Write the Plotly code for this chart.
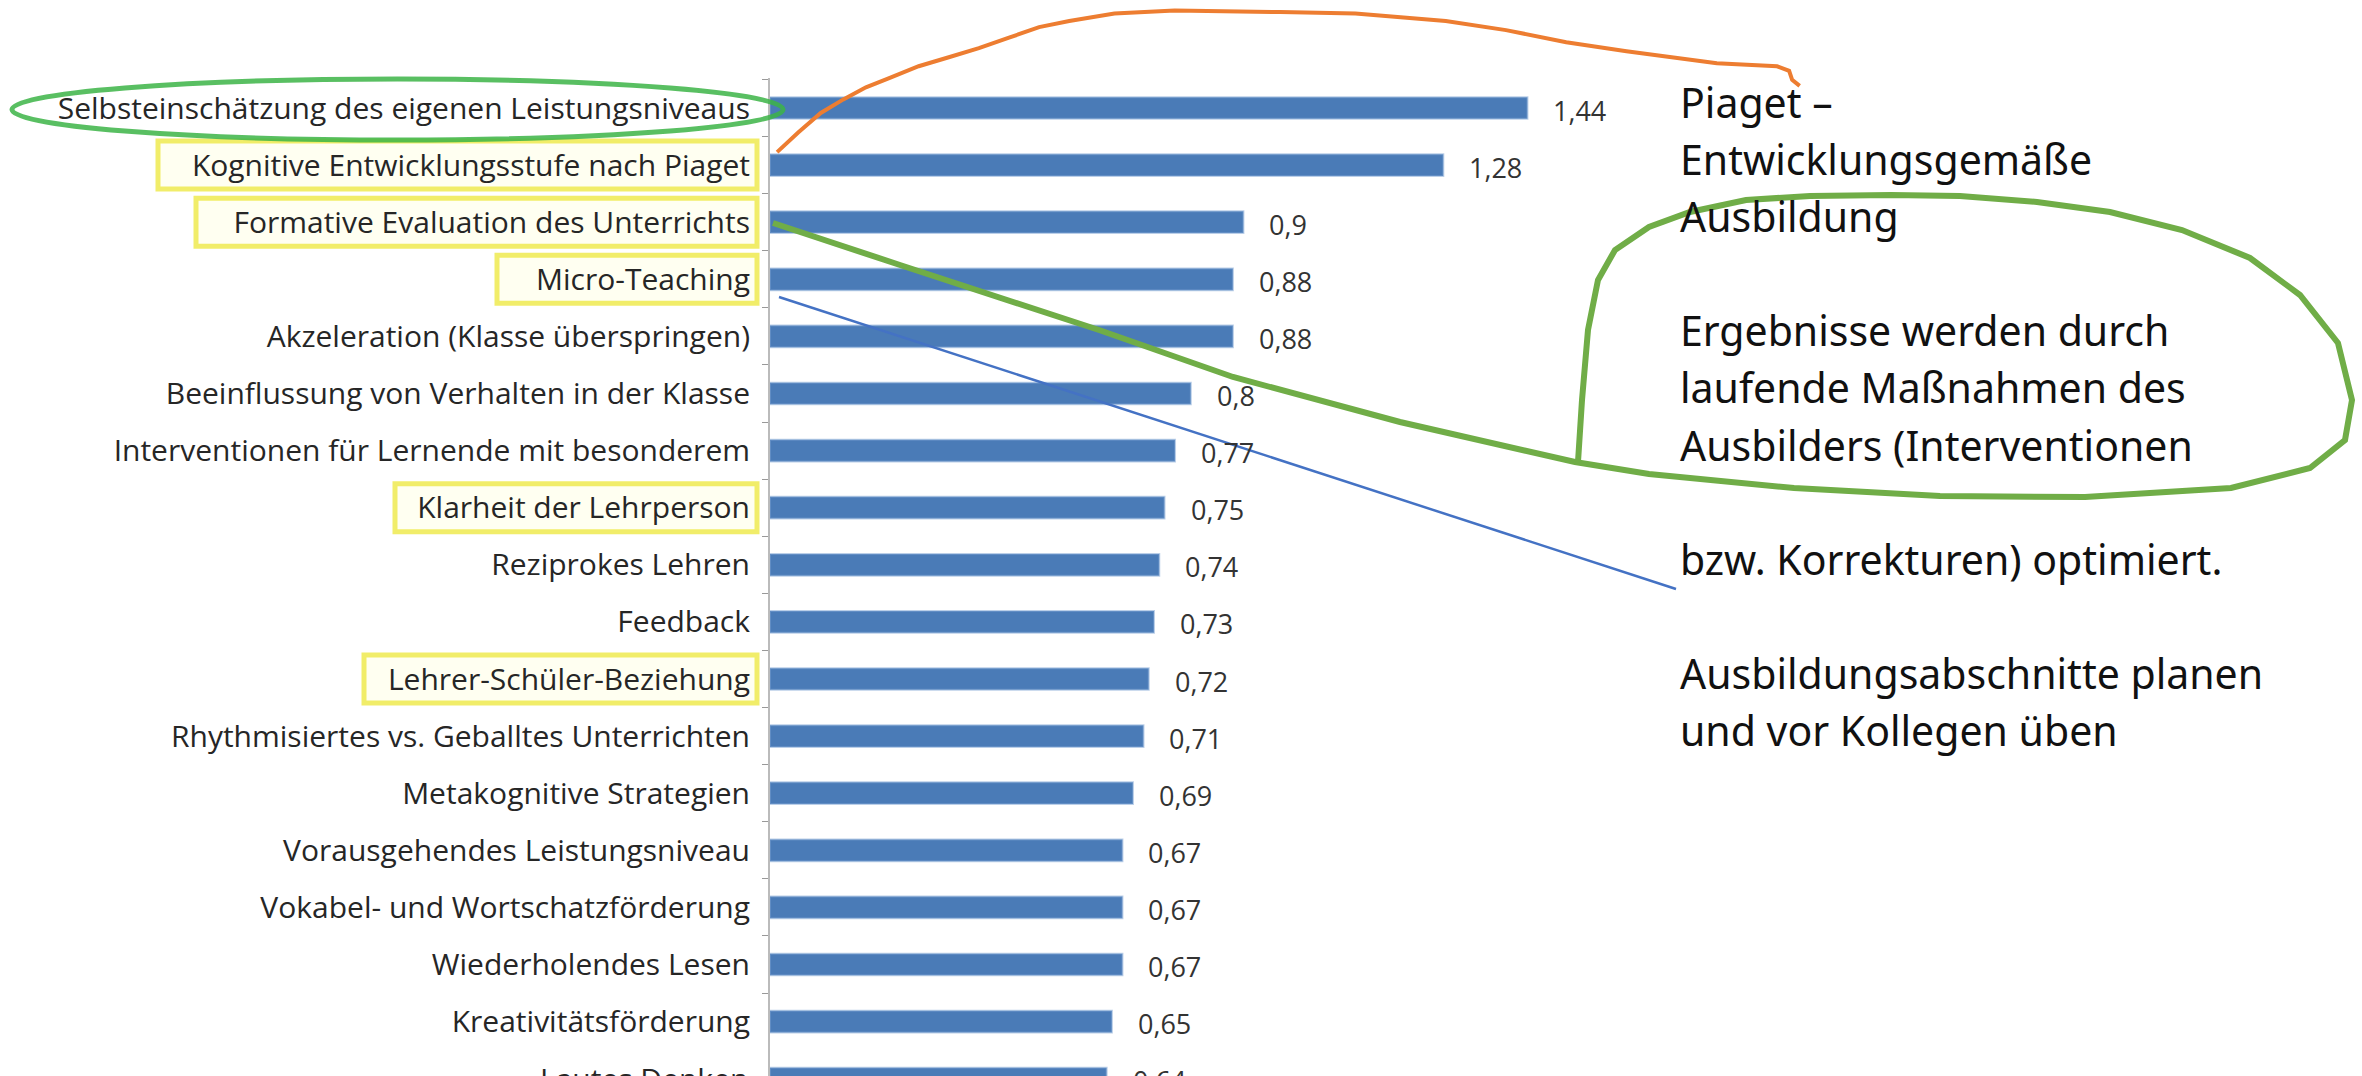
import plotly.graph_objects as go

# ---------------- data ----------------
categories = [
    "Selbsteinschätzung des eigenen Leistungsniveaus",
    "Kognitive Entwicklungsstufe nach Piaget",
    "Formative Evaluation des Unterrichts",
    "Micro-Teaching",
    "Akzeleration (Klasse überspringen)",
    "Beeinflussung von Verhalten in der Klasse",
    "Interventionen für Lernende mit besonderem",
    "Klarheit der Lehrperson",
    "Reziprokes Lehren",
    "Feedback",
    "Lehrer-Schüler-Beziehung",
    "Rhythmisiertes vs. Geballtes Unterrichten",
    "Metakognitive Strategien",
    "Vorausgehendes Leistungsniveau",
    "Vokabel- und Wortschatzförderung",
    "Wiederholendes Lesen",
    "Kreativitätsförderung",
    "Lautes Denken",
]
effect_sizes = [1.44, 1.28, 0.9, 0.88, 0.88, 0.8, 0.77, 0.75, 0.74, 0.73,
                0.72, 0.71, 0.69, 0.67, 0.67, 0.67, 0.65, 0.64]
value_labels = ["1,44", "1,28", "0,9", "0,88", "0,88", "0,8", "0,77", "0,75", "0,74", "0,73",
                "0,72", "0,71", "0,69", "0,67", "0,67", "0,67", "0,65", "0,64"]
highlighted = ["Kognitive Entwicklungsstufe nach Piaget",
               "Formative Evaluation des Unterrichts",
               "Micro-Teaching",
               "Klarheit der Lehrperson",
               "Lehrer-Schüler-Beziehung"]
note_lines = ["Piaget –", "Entwicklungsgemäße", "Ausbildung", "",
              "Ergebnisse werden durch", "laufende Maßnahmen des",
              "Ausbilders (Interventionen", "",
              "bzw. Korrekturen) optimiert.", "",
              "Ausbildungsabschnitte planen", "und vor Kollegen üben"]

# ---------------- layout geometry ----------------
W, H = 2362, 1076
ML, MR, MT, MB = 770, 14, 78, 0
PW, PH = W - ML - MR, H - MT - MB
ROW0, ROWSTEP = 108, 57.1
PX_PER_UNIT = 526.0
LABEL_FONT = dict(family="Open Sans", size=30, color="#262626")
VALUE_FONT = dict(family="Open Sans", size=27, color="#333333")


def px(x):
    return (x - ML) / PW


def py(y):
    return (H - MB - y) / PH


def path_from(points):
    s = "M {:.5f},{:.5f}".format(px(points[0][0]), py(points[0][1]))
    for x, y in points[1:]:
        s += " L {:.5f},{:.5f}".format(px(x), py(y))
    return s


y_lo = (MT - ROW0) / ROWSTEP
y_hi = (H - MB - ROW0) / ROWSTEP

fig = go.Figure()
fig.add_trace(go.Bar(
    x=effect_sizes, y=categories, orientation="h",
    marker=dict(color="#4A7BB7", line=dict(color="rgba(120,160,210,0.5)", width=2)),
    width=0.38, hoverinfo="skip",
))

annotations = []
for i, (cat, v, lab) in enumerate(zip(categories, effect_sizes, value_labels)):
    if i <= y_hi:
        annotations.append(dict(x=v, y=cat, xref="x", yref="y", text=lab, showarrow=False,
                                xanchor="left", xshift=24, yshift=-2, font=VALUE_FONT))
    else:
        # row partly cut off by the bottom edge of the picture (as in the reference)
        yc = py(ROW0 + i * ROWSTEP)
        annotations.append(dict(x=v, y=yc, xref="x", yref="paper", text=lab, showarrow=False,
                                xanchor="left", yanchor="middle", xshift=24, yshift=-2,
                                font=VALUE_FONT))
        annotations.append(dict(x=0, y=yc, xref="x", yref="paper", text=cat, showarrow=False,
                                xanchor="right", yanchor="middle", xshift=-20,
                                font=LABEL_FONT))

line_step = 57.1
for i, t in enumerate(note_lines):
    if not t:
        continue
    annotations.append(dict(x=px(1678), y=py(102 + i * line_step), xref="paper", yref="paper",
                            text=t, showarrow=False, xanchor="left", yanchor="middle",
                            font=dict(family="Noto Sans", size=41, color="#111111")))

shapes = []
# yellow highlight boxes around labels
yellow_boxes = {
    "Kognitive Entwicklungsstufe nach Piaget": 158,
    "Formative Evaluation des Unterrichts": 196,
    "Micro-Teaching": 497,
    "Klarheit der Lehrperson": 395,
    "Lehrer-Schüler-Beziehung": 364,
}
for name in highlighted:
    i = categories.index(name)
    yc = ROW0 + i * ROWSTEP
    shapes.append(dict(type="rect", xref="paper", yref="paper", layer="below",
                       x0=px(yellow_boxes[name]), x1=px(757), y0=py(yc - 24), y1=py(yc + 24),
                       line=dict(color="rgba(238,234,80,0.85)", width=5),
                       fillcolor="rgba(255,255,200,0.25)"))

# green ellipse around first label
shapes.append(dict(type="circle", xref="paper", yref="paper", layer="above",
                   x0=px(12), x1=px(783), y0=py(79), y1=py(140),
                   line=dict(color="rgba(60,180,70,0.85)", width=5)))

orange_pts = [(516, 101), (530, 88), (545, 75), (560, 66), (575, 58), (590, 52), (610, 44),
              (630, 38), (650, 32), (670, 25), (690, 18), (710, 14), (740, 9), (780, 7),
              (850, 8), (900, 9), (960, 14), (1000, 20), (1040, 28), (1080, 34), (1110, 38),
              (1140, 42), (1180, 44), (1188, 47), (1190, 53), (1195, 57)]
orange_pts = [(x * 1.506, y * 1.506) for x, y in orange_pts]
shapes.append(dict(type="path", xref="paper", yref="paper", path=path_from(orange_pts),
                   line=dict(color="#ED7D31", width=4), layer="above"))

green_pts = [(773, 223), (900, 265), (1099, 330), (1233, 377), (1400, 422), (1575, 462),
             (1649, 474), (1794, 488), (1940, 496), (2085, 497), (2231, 488), (2310, 468),
             (2345, 440), (2352, 400), (2338, 343), (2300, 295), (2250, 258), (2182, 230),
             (2110, 212), (2037, 202), (1960, 196), (1891, 195), (1810, 196), (1746, 200),
             (1690, 212), (1649, 227), (1615, 250), (1598, 280), (1588, 330), (1582, 400),
             (1578, 462)]
shapes.append(dict(type="path", xref="paper", yref="paper", path=path_from(green_pts),
                   line=dict(color="#70AD47", width=6), layer="above"))

shapes.append(dict(type="line", xref="paper", yref="paper",
                   x0=px(779), y0=py(297), x1=px(1676), y1=py(589),
                   line=dict(color="#4472C4", width=2.5), layer="above"))

fig.update_layout(
    width=W, height=H,
    margin=dict(l=ML, r=MR, t=MT, b=MB),
    paper_bgcolor="white", plot_bgcolor="white",
    showlegend=False,
    xaxis=dict(range=[0, PW / PX_PER_UNIT], visible=False, fixedrange=True),
    yaxis=dict(
        categoryorder="array", categoryarray=categories,
        range=[y_hi, y_lo],
        showline=True, linecolor="#BBBBBB", linewidth=2,
        ticks="outside", tickson="boundaries", ticklen=6, tickcolor="#999999",
        ticklabelstandoff=12,
        tickfont=LABEL_FONT,
        showgrid=False, zeroline=False, fixedrange=True,
    ),
    annotations=annotations,
    shapes=shapes,
)

fig.write_html("out.html")
